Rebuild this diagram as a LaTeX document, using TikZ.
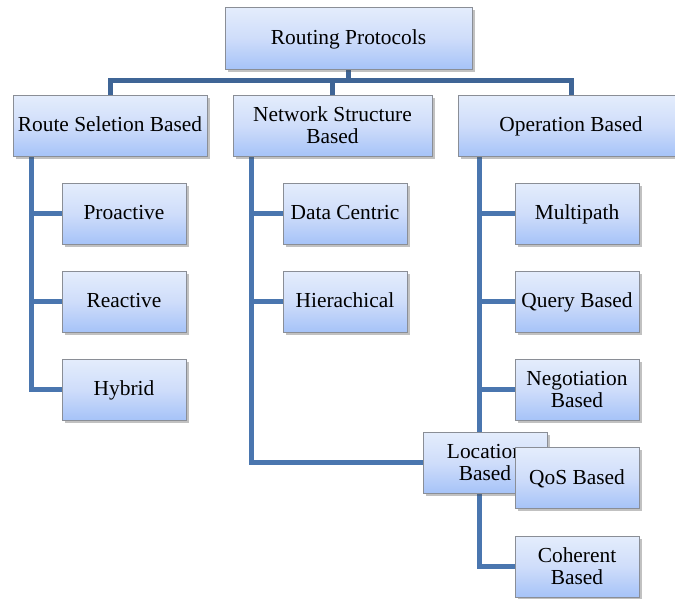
\documentclass[tikz,border=0pt]{standalone}
\usepackage{fontspec}
\setmainfont{Liberation Serif}
\usetikzlibrary{shadows}
\definecolor{boxtop}{HTML}{E4EDFC}
\definecolor{boxmid}{HTML}{CFDDFA}
\definecolor{boxbot}{HTML}{A6C3F8}
\definecolor{boxedge}{HTML}{8A8E96}
\definecolor{busline}{HTML}{3F6596}
\definecolor{trunk}{HTML}{4A76AF}
\pgfdeclarelayer{background}
\pgfsetlayers{background,main}
\tikzset{
  box/.style={draw=boxedge, line width=0.9pt, top color=boxtop, bottom color=boxbot, middle color=boxmid,
    align=center, inner sep=2pt, font=\fontsize{21.4}{22}\selectfont,
    drop shadow={shadow xshift=2.5pt, shadow yshift=-2.5pt, opacity=0.35, fill=black!70}},
  oneline/.style={text height=16pt, text depth=3.6pt},
  small/.style={box, minimum width=124pt, minimum height=61pt},
  conn/.style={draw=trunk, line width=5pt, line cap=rect},
  busconn/.style={draw=busline, line width=5pt, line cap=rect}
}
\begin{document}
\begin{tikzpicture}[x=1pt, y=-1pt]
\useasboundingbox (0,0) rectangle (675,598);
\node[box, oneline, minimum width=247pt, minimum height=62pt] (root) at (348.5,38) {Routing Protocols};
\node[box, oneline, minimum width=194pt, minimum height=61pt] (rs) at (110,125.5) {Route Seletion Based};
\node[box, minimum width=199pt, minimum height=61pt] (ns) at (332.5,125.5) {Network Structure\\Based};
\node[box, oneline, minimum width=226pt, minimum height=61pt] (op) at (571,125.5) {Operation Based};
\node[small, oneline] (pro) at (124,213.5) {Proactive};
\node[small, oneline] (rea) at (124,301.5) {Reactive};
\node[small, oneline] (hyb) at (124,389.5) {Hybrid};
\node[small, oneline] (dc) at (345,213.5) {Data Centric};
\node[small, oneline] (hi) at (345,301.5) {Hierachical};
\node[small, oneline] (mp) at (577,213.5) {Multipath};
\node[small, oneline] (qb) at (577,301.5) {Query Based};
\node[small] (nb) at (577,389.5) {Negotiation\\Based};
\node[small] (loc) at (485,462.5) {Location\\Based};
\node[small, oneline] (qos) at (577,478) {QoS Based};
\node[small] (coh) at (577,566.5) {Coherent\\Based};
\coordinate (bus) at (348.5,80);
\coordinate (rsT) at ([xshift=19pt]rs.south west);
\coordinate (nsT) at ([xshift=19pt]ns.south west);
\coordinate (opT) at ([xshift=22pt]op.south west);
\begin{pgfonlayer}{background}
\draw[busconn] (root.south) -- (bus);
\draw[busconn] (rs.north) -- (rs.north |- bus) -- (op.north |- bus) -- (op.north);
\draw[busconn] (ns.north) -- (ns.north |- bus);
\draw[conn] (rsT) -- (rsT |- hyb.west) -- (hyb.west);
\draw[conn] (rsT |- pro.west) -- (pro.west);
\draw[conn] (rsT |- rea.west) -- (rea.west);
\draw[conn] (nsT) -- (nsT |- loc.west) -- (loc.west);
\draw[conn] (nsT |- dc.west) -- (dc.west);
\draw[conn] (nsT |- hi.west) -- (hi.west);
\draw[conn] (opT) -- (opT |- coh.west) -- (coh.west);
\draw[conn] (opT |- mp.west) -- (mp.west);
\draw[conn] (opT |- qb.west) -- (qb.west);
\draw[conn] (opT |- nb.west) -- (nb.west);
\draw[conn] (opT |- qos.west) -- (qos.west);
\end{pgfonlayer}
\end{tikzpicture}
\end{document}
